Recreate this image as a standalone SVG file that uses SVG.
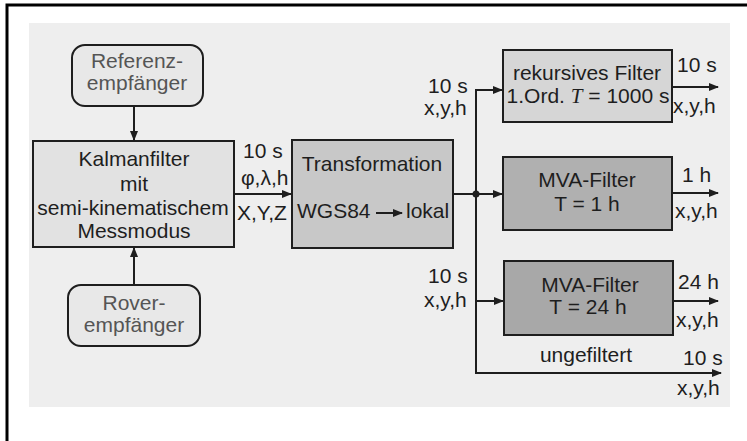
<svg xmlns="http://www.w3.org/2000/svg" width="747" height="441" viewBox="0 0 747 441">
<style>
text{font-family:"Liberation Sans",Arial,sans-serif;font-size:21px;fill:#1e1e1e}
.c{text-anchor:middle}
.g{fill:#555}
.box{stroke:#1e1e1e;stroke-width:2}
.ln{stroke:#1e1e1e;stroke-width:2;fill:none}
</style>
<defs>
<marker id="ah" markerWidth="10" markerHeight="8" refX="9" refY="4" orient="auto" markerUnits="userSpaceOnUse">
<path d="M0,0 L10,4 L0,8 Z" fill="#1e1e1e"/>
</marker>
</defs>
<rect width="747" height="441" fill="#fff"/>
<path d="M7,441 V5 H747" stroke="#000" stroke-width="3" fill="none"/>
<rect x="29" y="23" width="701" height="384" fill="#eeeeee"/>

<g id="referenz">
<rect class="box" x="72" y="45" width="131" height="61" rx="13" fill="#e8e8e8"/>
<text class="c g" x="137" y="68">Referenz-</text>
<text class="c g" x="137" y="90">empfänger</text>
</g>
<g id="rover">
<rect class="box" x="68" y="285" width="132" height="61" rx="13" fill="#e8e8e8"/>
<text class="c g" x="134" y="310">Rover-</text>
<text class="c g" x="134" y="332">empfänger</text>
</g>
<g id="kalman">
<rect class="box" x="33" y="141" width="201" height="106" fill="#e2e2e2"/>
<text class="c" x="134" y="166">Kalmanfilter</text>
<text class="c" x="134" y="191">mit</text>
<text class="c" x="133" y="215">semi-kinematischem</text>
<text class="c" x="134" y="238">Messmodus</text>
</g>
<g id="transformation">
<rect class="box" x="292" y="140" width="161" height="108" fill="#c8c8c8"/>
<text class="c" x="372" y="171">Transformation</text>
<text x="297" y="218">WGS84</text>
<line x1="376" y1="213" x2="402" y2="213" stroke="#1e1e1e" stroke-width="2" marker-end="url(#ah)"/>
<text x="406" y="218">lokal</text>
</g>
<g id="rekursiv">
<rect class="box" x="503" y="50" width="169" height="72" fill="#d6d6d6"/>
<text class="c" x="587" y="80">rekursives Filter</text>
<text class="c" x="588" y="103">1.Ord. <tspan style="font-family:'Liberation Serif',serif;font-style:italic">T</tspan> = 1000 s</text>
</g>
<g id="mva1">
<rect class="box" x="503" y="157" width="169" height="73" fill="#b0b0b0"/>
<text class="c" x="587" y="187" fill="#333">MVA-Filter</text>
<text class="c" x="587" y="211" fill="#333">T = 1 h</text>
</g>
<g id="mva24">
<rect class="box" x="504" y="261" width="169" height="74" fill="#a8a8a8"/>
<text class="c" x="590" y="292" fill="#333">MVA-Filter</text>
<text class="c" x="588" y="314" fill="#333">T = 24 h</text>
</g>

<g id="connectors">
<line class="ln" x1="134" y1="106" x2="134" y2="140" marker-end="url(#ah)"/>
<line class="ln" x1="134" y1="285" x2="134" y2="248" marker-end="url(#ah)"/>
<line class="ln" x1="234" y1="194" x2="291" y2="194" marker-end="url(#ah)"/>
<line class="ln" x1="453" y1="194" x2="502" y2="194" marker-end="url(#ah)"/>
<path class="ln" d="M502,90 H476 V373 H721" marker-end="url(#ah)"/>
<line class="ln" x1="476" y1="90" x2="502" y2="90" marker-end="url(#ah)"/>
<line class="ln" x1="476" y1="301" x2="503" y2="301" marker-end="url(#ah)"/>
<circle cx="476" cy="194" r="3.5" fill="#1e1e1e"/>
<line class="ln" x1="672" y1="87" x2="718" y2="87" marker-end="url(#ah)"/>
<line class="ln" x1="672" y1="193" x2="718" y2="193" marker-end="url(#ah)"/>
<line class="ln" x1="673" y1="301" x2="718" y2="301" marker-end="url(#ah)"/>
</g>

<g id="labels">
<text x="243" y="158">10 s</text>
<text x="241" y="185">φ,λ,h</text>
<text x="237" y="220">X,Y,Z</text>
<text x="428" y="93">10 s</text>
<text x="424" y="115">x,y,h</text>
<text x="428" y="283">10 s</text>
<text x="424" y="307">x,y,h</text>
<text x="677" y="72">10 s</text>
<text x="673" y="113">x,y,h</text>
<text x="682" y="182">1 h</text>
<text x="675" y="218">x,y,h</text>
<text x="678" y="289">24 h</text>
<text x="676" y="327">x,y,h</text>
<text class="c" x="586" y="362">ungefiltert</text>
<text x="683" y="365">10 s</text>
<text x="677" y="395">x,y,h</text>
</g>
</svg>
